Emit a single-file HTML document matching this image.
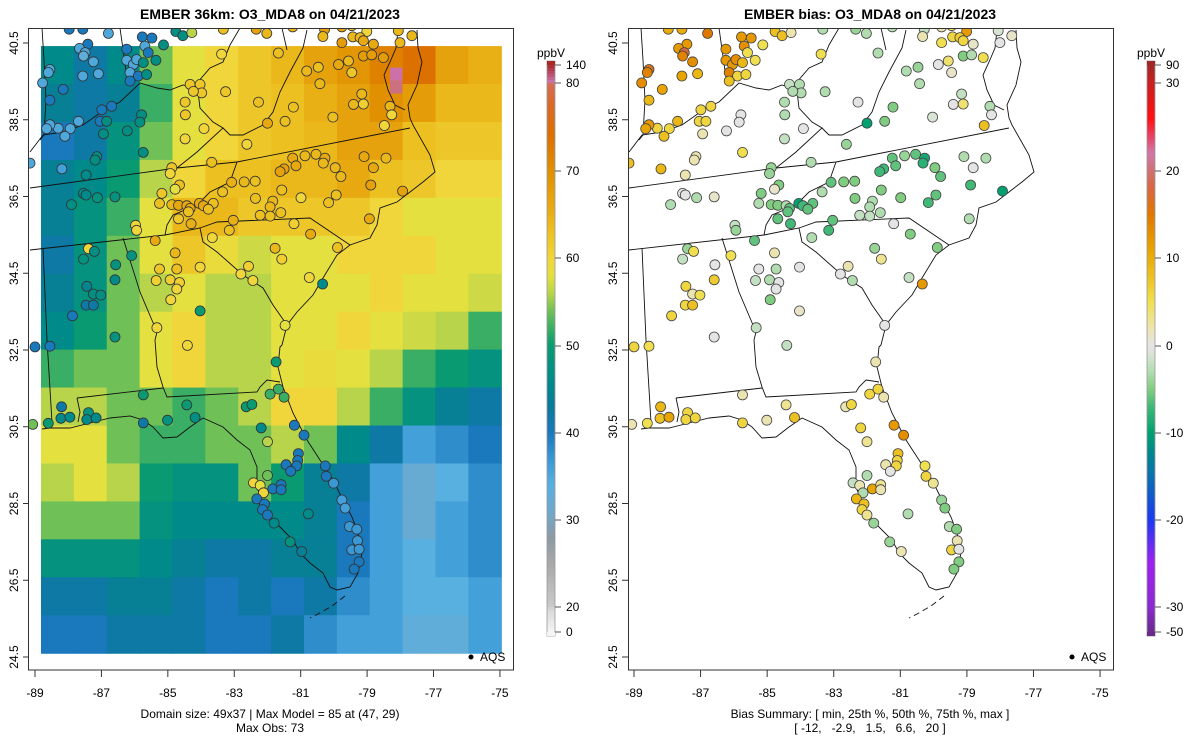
<!DOCTYPE html>
<html><head><meta charset="utf-8"><style>
html,body{margin:0;padding:0;background:#fff;width:1200px;height:750px;overflow:hidden}
svg{display:block;font-family:"Liberation Sans",sans-serif}
</style></head><body>
<svg id="chart" width="1200" height="750" viewBox="0 0 1200 750" xmlns="http://www.w3.org/2000/svg">
<defs>
<clipPath id="clipL"><rect x="29" y="29" width="484" height="641"/></clipPath>
<clipPath id="clipR"><rect x="628" y="29" width="485" height="641"/></clipPath>
<g id="outlines" fill="none" stroke="#111" stroke-width="0.9">
<polyline points="417,30 418,48 422,62 417,85 408,105 410,118 413,125 430,155 435,172 423,182 410,192 397,202 380,208 377,225 370,238 350,245 337,255 323,278 313,295 297,312 287,325 282,345 280,347 278,367 283,387 293,413 307,440 320,460 333,480 343,500 352,517 358,533 362,553 358,573 350,587 337,590 330,587 323,573 310,563 300,553 293,540 283,530 273,520 263,503 257,487 257,467 250,450 237,440 223,427 203,418 190,427 177,437 163,438 153,427 143,420 130,416 110,418 90,423 70,428 50,428 42,429"/>
<polyline points="398,30 396,48 390,62 384,75 388,90 395,105 405,110"/>
<polyline points="345,596 332,606 318,614 310,618" stroke-dasharray="6,4"/>
<polyline points="42,28 44,60 46,100 44,135 40,140"/>
<polyline points="30,152 43,135 63,132 83,125 107,108 120,102 140,83 157,88 170,90 183,85 190,87 197,83 210,68 223,62 230,45 240,28"/>
<polyline points="120,28 127,78"/>
<polyline points="282,28 287,50"/>
<polyline points="307,30 303,48 290,72 280,92 273,112 263,125 243,135 230,135 223,128"/>
<polyline points="197,83 200,108 213,122 223,128 197,152 177,168"/>
<polyline points="30,188 177,168 237,162 410,128"/>
<polyline points="237,162 230,182 210,192 197,205 173,215 167,225 165,235"/>
<polyline points="30,250 165,235 200,228 217,222 310,218 350,245"/>
<polyline points="200,228 203,242 217,252 243,275 263,288 273,305 287,325"/>
<polyline points="123,238 140,292 157,332 155,340 157,367 163,387 167,397 257,392 260,387 267,380 280,382"/>
<polyline points="77,398 163,388"/>
<polyline points="77,398 80,412 78,422"/>
<polyline points="43,248 47,340 52,422"/>
</g>
</defs>

<text x="270" y="19" text-anchor="middle" font-size="14" font-weight="bold">EMBER 36km: O3_MDA8 on 04/21/2023</text>
<text x="870" y="19" text-anchor="middle" font-size="14" font-weight="bold">EMBER bias: O3_MDA8 on 04/21/2023</text>

<g id="leftMap" clip-path="url(#clipL)"></g>
<g clip-path="url(#clipL)"><use href="#outlines"/></g>
<g id="leftPts" clip-path="url(#clipL)"></g>
<g clip-path="url(#clipR)"><use href="#outlines" transform="translate(599,0)"/></g>
<g id="rightPts" clip-path="url(#clipR)"></g>

<rect x="28.5" y="28.5" width="485" height="641.5" fill="none" stroke="#333" stroke-width="1"/>
<rect x="628.5" y="28.5" width="485" height="641.5" fill="none" stroke="#333" stroke-width="1"/>
<g id="axes" font-size="12" fill="#000"></g>
<g id="cbars" font-size="12" fill="#000"></g>

<circle cx="471" cy="657" r="2.5" fill="#000"/>
<text x="480" y="661" font-size="12">AQS</text>
<circle cx="1072" cy="657" r="2.5" fill="#000"/>
<text x="1081" y="661" font-size="12">AQS</text>

<text x="270" y="718" text-anchor="middle" font-size="12">Domain size: 49x37 | Max Model = 85 at (47, 29)</text>
<text x="270" y="732" text-anchor="middle" font-size="12">Max Obs: 73</text>
<text x="870" y="718" text-anchor="middle" font-size="12">Bias Summary: [ min, 25th %, 50th %, 75th %, max ]</text>
<text x="870" y="732" text-anchor="middle" font-size="12" xml:space="preserve">[ -12,   -2.9,   1.5,   6.6,   20 ]</text>
</svg>
<script>
// ---- data ----
const xTicks = [-89,-87,-85,-83,-81,-79,-77,-75];
const yTicks = [40.5,38.5,36.5,34.5,32.5,30.5,28.5,26.5,24.5];
const modelGrid = [
[46,42,46,54,58,60,62,64,67,69,72,74,67,65],
[44,42,44,52,58,60,62,63,65,67,70,68,64,64],
[40,42,48,54,58,60,62,63,64,67,67,63,62,62],
[44,46,50,56,60,63,63,64,64,66,63,62,60,60],
[44,48,52,58,64,64,62,62,62,62,60,58,58,58],
[42,48,54,58,62,59,57,58,58,60,60,60,58,58],
[44,48,54,56,58,56,56,58,58,58,60,58,58,57],
[46,50,54,58,60,56,56,58,58,60,58,57,56,52],
[52,54,54,58,60,56,56,58,59,58,56,52,50,48],
[56,56,54,54,52,54,56,60,60,56,52,48,44,42],
[58,58,54,52,52,54,54,56,54,46,42,36,38,40],
[56,58,56,50,48,48,54,50,44,42,36,32,34,38],
[54,54,54,48,46,46,46,46,44,40,36,32,36,38],
[48,48,48,46,44,42,42,44,44,40,36,34,36,38],
[42,42,44,44,42,40,42,40,42,38,36,34,34,36],
[40,40,42,42,42,40,40,42,38,36,36,33,33,36]
];
const hotLon = [-78.13,-78.13];
const hotLat = [39.69,39.35];
const hotVal = [85,82];
const cbModelTicks = [140,80,70,60,50,40,30,20,0];
const cbBiasTicks = [90,30,20,10,0,-10,-20,-30,-50];
const siteLon = [
-87.97,-87.56,-86.79,-85.77,-85.48,-85.13,-84.76,-84.55,-84.28,-83.33,
-82.34,-82.02,-81.24,-80.28,-79.76,-79.46,-79.01,-79.01,-78.06,-77.65,
-80.33,-79.43,-79.21,-87.41,-87.66,-87.49,-87.54,-87.24,-87.09,-87.56,
-88.55,-88.60,-88.77,-88.15,-88.55,-86.24,-86.24,-86.04,-85.94,-86.14,
-85.89,-86.14,-85.69,-85.59,-85.36,-85.64,-85.74,-86.99,-86.69,-87.04,
-86.84,-87.69,-87.94,-88.30,-88.55,-88.65,-88.10,-86.94,-86.22,-85.79,
-85.84,-85.74,-87.14,-87.19,-88.19,-87.46,-83.38,-81.67,-80.82,-80.47,
-80.42,-79.86,-79.76,-79.46,-79.56,-79.11,-78.81,-79.11,-78.86,-78.51,
-78.01,-84.33,-84.03,-83.98,-84.23,-83.26,-82.27,-81.22,-84.48,-84.47,
-83.91,-84.48,-82.00,-81.47,-80.03,-79.41,-79.16,-79.11,-78.31,-78.26,
-78.48,-82.62,-83.68,-84.88,-84.93,-81.24,-80.87,-80.54,-80.27,-80.32,
-81.14,-81.50,-81.62,-79.96,-79.79,-79.09,-78.81,-78.43,-78.89,-77.93,
-83.08,-82.70,-82.37,-84.65,-84.78,-85.18,-83.35,-85.25,-84.88,-84.68,
-84.43,-84.33,-84.05,-83.93,-83.63,-83.78,-84.38,-84.68,-84.30,-83.03,
-83.15,-83.66,-82.36,-81.84,-81.92,-81.57,-80.99,-79.93,-80.16,-82.22,
-81.92,-81.60,-81.20,-80.70,-78.93,-79.89,-85.38,-85.97,-85.94,-84.78,
-85.25,-84.73,-85.35,-84.93,-84.65,-84.73,-84.91,-84.03,-84.03,-85.33,
-84.41,-86.59,-81.77,-81.57,-82.57,-82.80,-82.44,-80.74,-80.34,-81.47,
-87.39,-87.21,-87.54,-86.57,-86.09,-86.59,-87.44,-87.24,-87.02,-87.46,
-87.24,-87.87,-87.54,-87.46,-87.12,-86.59,-87.90,-88.55,-89.00,-89.15,
-81.74,-85.74,-84.43,-81.92,-81.67,-81.50,-82.64,-82.47,-88.20,-88.22,
-87.95,-88.60,-89.07,-87.39,-87.44,-87.16,-85.74,-85.01,-84.18,-82.19,
-81.19,-80.90,-82.00,-81.07,-81.09,-81.12,-81.44,-81.30,-82.00,-80.26,
-80.23,-80.01,-82.42,-82.22,-82.12,-81.84,-81.59,-81.59,-82.32,-82.09,
-82.15,-82.00,-81.80,-81.32,-80.97,-80.77,-79.76,-79.66,-79.53,-79.31,
-79.29,-79.46,-79.24,-79.24,-79.39];
const siteLat = [
40.86,40.86,40.75,40.66,40.63,40.45,40.80,40.69,40.77,40.86,
40.86,40.75,40.92,40.86,40.92,40.95,40.95,40.80,40.82,40.69,
40.67,40.66,40.64,40.47,40.36,40.25,40.16,40.01,39.70,39.64,
39.81,39.73,39.46,39.29,39.01,40.34,40.05,39.94,40.07,39.73,
39.64,39.51,40.42,40.25,40.05,39.68,39.99,38.76,38.85,38.46,
38.46,38.46,38.27,38.28,38.37,38.27,38.07,38.13,38.21,38.63,
38.44,37.65,37.54,37.45,37.22,37.06,40.21,40.24,39.77,39.87,
39.44,39.94,40.51,39.73,40.03,40.56,40.47,40.16,40.19,40.12,
40.51,39.42,39.42,39.20,39.24,39.23,38.96,38.83,38.96,38.63,
38.27,38.00,38.41,38.46,38.57,38.90,39.17,38.91,38.85,38.63,
38.35,37.86,37.39,37.25,37.10,37.50,37.56,37.60,37.50,37.37,
37.30,37.22,37.15,37.25,37.02,37.54,37.25,37.50,36.80,36.64,
36.87,36.88,36.90,36.80,36.69,36.58,36.62,36.32,36.29,36.27,
36.26,36.19,36.32,36.26,36.32,36.17,36.10,35.92,35.79,35.88,
35.62,35.43,36.45,36.38,36.23,36.67,36.47,36.54,36.34,36.01,
35.99,36.08,35.79,35.52,35.92,35.17,35.35,35.75,35.62,35.03,
34.61,34.61,34.31,34.33,34.26,34.09,33.81,34.66,33.52,33.08,
32.62,32.84,35.15,34.87,34.68,34.48,34.31,34.39,34.22,33.14,
35.14,35.07,34.87,34.72,34.96,34.33,34.16,33.96,33.93,33.67,
33.67,33.39,36.58,36.54,36.47,36.49,36.29,32.60,32.58,37.37,
32.19,31.33,31.07,31.35,31.48,31.27,31.02,31.08,31.02,30.72,
30.75,30.59,30.56,30.87,30.69,30.73,30.60,30.67,30.74,30.47,
30.54,30.28,30.11,29.80,29.62,29.48,29.51,29.34,29.23,29.48,
29.21,29.03,29.04,28.97,28.78,28.88,28.99,28.86,28.62,28.49,
28.34,28.20,27.99,27.50,27.25,28.23,28.59,28.38,27.90,27.83,
27.53,27.29,27.31,26.98,26.79];
const obsVal = [
40,40,35,40,40,47,47,47,56,63,
67,64,64,67,67,64,64,60,64,64,
64,64,64,40,35,35,33,35,35,35,
35,35,35,40,40,40,35,35,35,35,
40,40,35,40,47,47,47,40,40,40,
47,35,35,35,35,35,35,47,47,47,
47,47,47,47,36,46,60,63,64,63,
64,66,68,62,64,66,66,68,68,68,
64,62,62,62,62,62,63,63,62,62,
60,60,66,63,63,64,64,61,64,60,
60,60,63,62,60,66,64,64,66,64,
66,67,67,64,64,66,66,64,67,67,
65,64,63,63,58,62,63,63,64,66,
66,66,66,66,63,63,63,62,65,65,
63,60,63,64,64,63,60,63,63,63,
63,63,61,66,66,63,66,60,60,64,
62,63,61,61,61,60,60,60,50,60,
60,48,64,61,61,60,60,60,46,58,
60,47,48,48,48,46,45,47,47,42,
42,40,46,46,48,48,47,40,40,35,
50,50,50,52,52,52,50,50,42,46,
46,50,54,48,46,46,42,48,47,46,
40,40,56,40,40,40,40,40,54,40,
40,37,60,58,60,40,40,40,40,40,
40,40,46,48,44,46,36,36,37,37,
37,37,37,40,40];
const biasVal = [
10,10,15,12,12,5,8,8,2,-3,
-4,-3,-3,-2,2,5,14,12,-1,1,
2,6,7,12,12,18,14,13,9,11,
16,14,13,11,9,12,12,12,13,14,
6,8,13,5,5,6,9,6,6,6,
6,9,6,6,12,11,8,2,0,0,
0,5,2,2,9,2,5,-3,-3,-4,
-3,0,5,1,4,6,1,-5,-3,5,
0,-2,-3,-3,-3,-3,0,-5,-3,-3,
0,-2,-10,-5,-1,0,-2,4,-3,0,
8,-4,-3,-4,-4,-6,-4,-6,-9,-8,
-6,-7,-7,-5,-6,-3,0,-3,-7,-10,
-6,-5,-5,-5,1,-5,-3,-3,-5,-5,
-3,-6,-10,-7,-6,-6,-6,-6,-7,-6,
-7,-3,-5,-3,-3,-5,-5,-6,-7,-2,
-2,-3,0,-5,-3,-5,-6,-2,-4,2,
0,-3,-2,-3,0,0,-5,0,1,-2,
-2,0,-4,3,2,0,-3,-2,12,0,
-4,5,-2,0,5,7,6,2,5,6,
8,6,0,0,-3,1,-3,5,6,8,
2,2,3,6,6,2,2,6,9,8,
11,5,2,6,6,6,6,2,8,6,
12,13,3,8,6,6,2,0,-3,5,
6,3,-2,2,-3,11,3,2,9,8,
6,3,-4,-4,2,-3,-4,-5,-3,-5,
2,6,0,-5,-5];

// ---- scales ----
const NS='http://www.w3.org/2000/svg';
function xL(lon){return 35+(lon+89)*33.21;}
function xR(lon){return 634+(lon+89)*33.29;}
function yS(lat){return 43+(40.5-lat)*38.375;}
const cbPos = [65,83,171,258,346,433,520,607,632];
function lerpColor(a,b,t){
  const pa=[1,3,5].map(i=>parseInt(a.substr(i,2),16)),pb=[1,3,5].map(i=>parseInt(b.substr(i,2),16));
  return 'rgb('+pa.map((v,i)=>Math.round(v+(pb[i]-v)*t)).join(',')+')';
}
function scaleColor(stops,v){
  if(v<=stops[0][0])return stops[0][1];
  for(let i=1;i<stops.length;i++){if(v<=stops[i][0]){const t=(v-stops[i-1][0])/(stops[i][0]-stops[i-1][0]);return lerpColor(stops[i-1][1],stops[i][1],t);}}
  return stops[stops.length-1][1];
}
const modelStops=[[0,'#f5f5f5'],[18,'#d8d8d8'],[25,'#a8a8a8'],[28,'#8c9aa4'],[31,'#6fa8cc'],[34,'#58b0e0'],[37,'#3a98d4'],[40,'#1a78bc'],[43,'#0a7a9a'],[46,'#008a8a'],[50,'#0a9a72'],[52,'#3aae64'],[54,'#70c058'],[56,'#b8d44a'],[58,'#e4e040'],[60,'#f0d63a'],[63,'#ecc020'],[66,'#e8a810'],[70,'#e09000'],[74,'#dc7000'],[78,'#d86a30'],[82,'#cc7080'],[85,'#cc70a8'],[140,'#a82828']];
const biasStops=[[-50,'#6a2a8a'],[-30,'#8a2ad0'],[-25,'#a020f0'],[-20,'#1a3af0'],[-15,'#0a70b0'],[-12,'#008a8a'],[-10,'#00a070'],[-7,'#40b878'],[-5,'#80cc80'],[-3,'#b0dcb0'],[-1,'#d8e4d4'],[0,'#e4e4e4'],[2,'#ece4b0'],[5,'#f0e050'],[8,'#ecc020'],[11,'#e8a400'],[15,'#e07800'],[18,'#d86840'],[20,'#d07070'],[22,'#d078a8'],[24,'#e84060'],[26,'#ff1010'],[30,'#c82020'],[90,'#a02828']];
function mk(tag,attrs,parent){const e=document.createElementNS(NS,tag);for(const k in attrs)e.setAttribute(k,attrs[k]);parent.appendChild(e);return e;}

// ---- heatmap ----
const gL=document.getElementById('leftMap');
const lonMin=-88.82,lonMax=-74.96,latTop=40.42,latBot=24.6;
const nR=modelGrid.length,nC=modelGrid[0].length;
const dLon=(lonMax-lonMin)/nC,dLat=(latTop-latBot)/nR;
for(let r=0;r<nR;r++)for(let c=0;c<nC;c++){
  const x0=xL(lonMin+c*dLon),x1=xL(lonMin+(c+1)*dLon),y0=yS(latTop-r*dLat),y1=yS(latTop-(r+1)*dLat);
  const el=mk('rect',{x:x0.toFixed(2),y:y0.toFixed(2),width:(x1-x0+0.6).toFixed(2),height:(y1-y0+0.6).toFixed(2),fill:scaleColor(modelStops,modelGrid[r][c])},gL);
  
  
}
for(let i=0;i<hotVal.length;i++){
  const el=mk('rect',{x:(xL(hotLon[i])-6).toFixed(1),y:(yS(hotLat[i])-6.5).toFixed(1),width:12.4,height:13,fill:scaleColor(modelStops,hotVal[i])},gL);
  
  
}

// ---- points ----
const gLP=document.getElementById('leftPts'),gRP=document.getElementById('rightPts');
for(let i=0;i<siteLon.length;i++){
  const a=mk('circle',{cx:xL(siteLon[i]).toFixed(1),cy:yS(siteLat[i]).toFixed(1),r:5,fill:scaleColor(modelStops,obsVal[i]),stroke:'#333','stroke-width':0.8},gLP);
  
  
  const b=mk('circle',{cx:xR(siteLon[i]).toFixed(1),cy:yS(siteLat[i]).toFixed(1),r:5,fill:scaleColor(biasStops,biasVal[i]),stroke:'#444','stroke-width':0.8},gRP);
  
  
}

// ---- axes ----
const gA=document.getElementById('axes');
[[xL,29],[xR,628]].forEach(([fx,fl],p)=>{
  xTicks.forEach(t=>{
    const x=fx(t);
    mk('line',{x1:x,y1:670,x2:x,y2:677,stroke:'#333'},gA);
    const tx=mk('text',{x:x,y:697,'text-anchor':'middle'},gA);tx.textContent=String(t);
    
    
  });
  yTicks.forEach(t=>{
    const y=yS(t);
    mk('line',{x1:fl,y1:y,x2:fl-6,y2:y,stroke:'#333'},gA);
    const tx=mk('text',{x:fl-11,y:y,'text-anchor':'middle',transform:'rotate(-90 '+(fl-11)+' '+y+')'},gA);tx.textContent=t.toFixed(1);
    
    
  });
});

// ---- colorbars ----
const gC=document.getElementById('cbars');
function colorbar(x0,ticks,stops,name){
  const g=mk('g',{},gC);
  
  
  for(let i=0;i<ticks.length-1;i++){
    const ya=cbPos[i],yb=cbPos[i+1],n=Math.max(2,Math.round((yb-ya)/3));
    for(let k=0;k<n;k++){
      const v=ticks[i]+(ticks[i+1]-ticks[i])*(k+0.5)/n;
      mk('rect',{x:x0,y:(ya+(yb-ya)*k/n).toFixed(2),width:8,height:((yb-ya)/n+0.5).toFixed(2),fill:scaleColor(stops,v)},g);
    }
  }
  mk('rect',{x:x0,y:cbPos[0]-4,width:8,height:cbPos[cbPos.length-1]-cbPos[0]+8,fill:'none',stroke:'#999','stroke-width':0.8},g);
  mk('rect',{x:x0,y:cbPos[0]-4,width:8,height:4,fill:stops[stops.length-1][1]},g);
  mk('rect',{x:x0,y:cbPos[cbPos.length-1],width:8,height:4,fill:stops[0][1]},g);
  ticks.forEach((t,i)=>{
    mk('line',{x1:x0+8,y1:cbPos[i],x2:x0+14,y2:cbPos[i],stroke:'#555'},g);
    const tx=mk('text',{x:x0+19,y:cbPos[i]+4},g);tx.textContent=String(t);
    
    
  });
  const u=mk('text',{x:x0+4,y:57,'text-anchor':'middle'},g);u.textContent='ppbV';
  
  
}
colorbar(547,cbModelTicks,modelStops,'model-colorbar');
colorbar(1147,cbBiasTicks,biasStops,'bias-colorbar');
</script>
</body></html>
